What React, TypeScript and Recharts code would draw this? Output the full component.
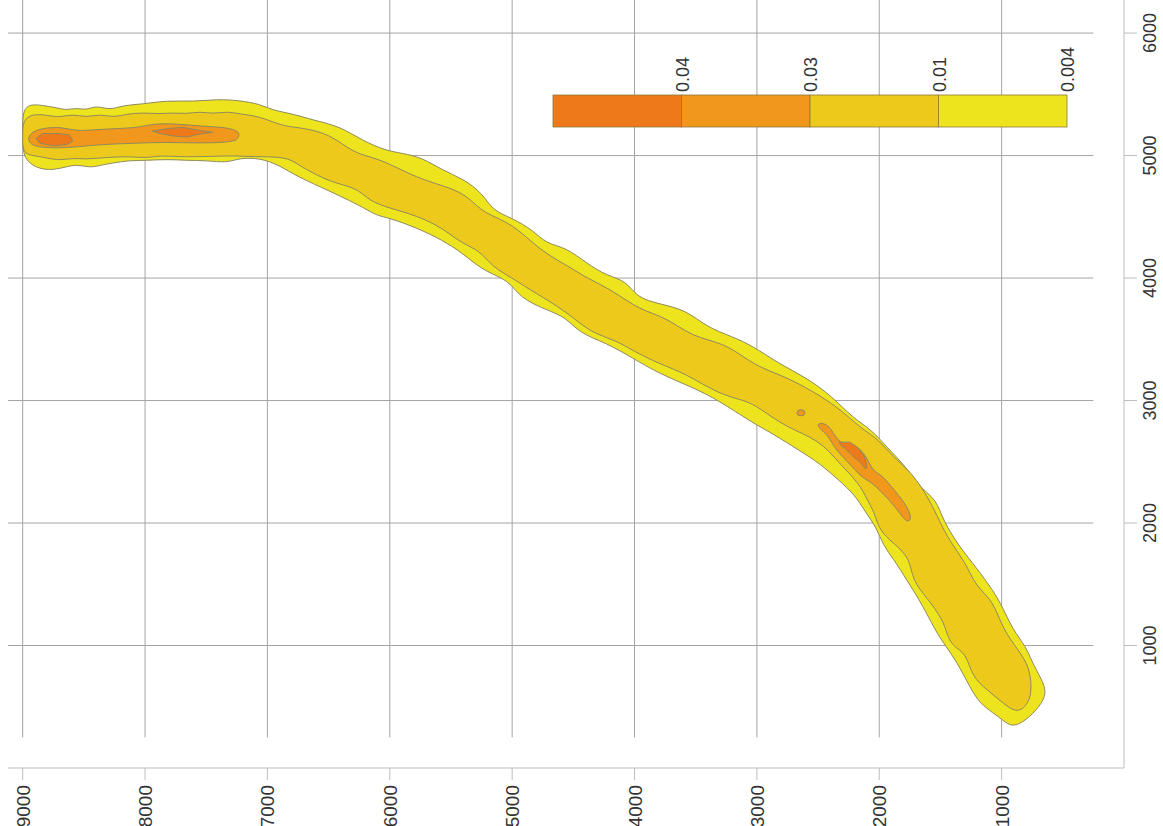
import React from 'react';
import { ScatterChart, Scatter, XAxis, YAxis, ReferenceLine, Legend } from 'recharts';

type P = [number, number];

const xTicks = [1000, 2000, 3000, 4000, 5000, 6000, 7000, 8000, 9000];
const yTicks = [1000, 2000, 3000, 4000, 5000, 6000];
const xDomain: [number, number] = [0, 9120];
const yDomain: [number, number] = [0, 6270];
const gridMin = 250;

const legendLevels = ['0.04', '0.03', '0.01', '0.004'];
const legendColors = ['#EE791B', '#F0971C', '#EDC91C', '#EEE41E'];

// outer contour (0.004)
const band004: P[] = [
  [9000, 5370], [8940, 5420], [8840, 5410], [8720, 5390], [8640, 5370], [8560, 5390], [8480, 5370], [8400, 5410],
  [8290, 5370], [8180, 5410], [8020, 5420], [7820, 5450], [7610, 5440], [7410, 5460], [7230, 5450], [7060, 5420],
  [6960, 5370], [6790, 5340], [6630, 5290], [6410, 5240], [6220, 5120], [6030, 5040], [5900, 5020], [5730, 4980],
  [5570, 4880], [5400, 4810], [5240, 4690], [5160, 4550], [5000, 4490], [4830, 4390], [4720, 4280], [4560, 4250],
  [4390, 4120], [4230, 4020], [4070, 3980], [3980, 3840], [3800, 3790], [3580, 3740], [3410, 3600], [3200, 3520],
  [3040, 3450], [2820, 3300], [2600, 3190], [2380, 3030], [2220, 2860], [2060, 2760], [1940, 2620], [1780, 2460],
  [1670, 2290], [1530, 2190], [1480, 2020], [1340, 1800], [1210, 1640], [1070, 1450], [990, 1310], [910, 1130],
  [800, 990], [750, 860], [670, 720], [630, 610], [690, 500], [800, 390], [910, 330], [990, 390], [1070, 450],
  [1180, 530], [1260, 660], [1340, 820], [1430, 960], [1510, 1070], [1570, 1180], [1670, 1370], [1810, 1590],
  [1880, 1700], [1970, 1820], [2020, 1960], [2120, 2100], [2200, 2230], [2330, 2350], [2490, 2490], [2650, 2590],
  [2870, 2730], [3040, 2820], [3310, 3000], [3530, 3110], [3800, 3220], [4020, 3350], [4230, 3470], [4450, 3550],
  [4560, 3680], [4720, 3740], [4940, 3840], [5020, 3980], [5240, 4060], [5400, 4200], [5570, 4310], [5780, 4410],
  [6000, 4490], [6110, 4510], [6220, 4580], [6490, 4710], [6760, 4830], [6900, 4920], [7060, 4980], [7230, 4980],
  [7330, 4940], [7500, 4960], [7660, 4960], [7820, 4970], [7990, 4960], [8130, 4960], [8260, 4940], [8370, 4920],
  [8450, 4900], [8560, 4930], [8670, 4900], [8780, 4880], [8890, 4900], [8970, 4960], [9000, 5040], [9000, 5200],
];

// 0.01 contour
const band01: P[] = [
  [9000, 5290], [8920, 5340], [8800, 5330], [8700, 5310], [8590, 5340], [8480, 5310], [8370, 5340], [8260, 5310],
  [8150, 5340], [8020, 5350], [7880, 5340], [7770, 5350], [7660, 5340], [7550, 5360], [7450, 5340], [7330, 5360],
  [7230, 5340], [7060, 5320], [6880, 5240], [6740, 5230], [6490, 5180], [6300, 5020], [6110, 4980], [5940, 4900],
  [5730, 4800], [5510, 4740], [5350, 4660], [5240, 4530], [5000, 4450], [4780, 4230], [4530, 4090], [4390, 4000],
  [4180, 3900], [3960, 3740], [3740, 3680], [3530, 3520], [3270, 3470], [3090, 3340], [2950, 3260], [2760, 3190],
  [2550, 3080], [2330, 2940], [2160, 2780], [2000, 2680], [1890, 2540], [1730, 2410], [1590, 2190], [1510, 2020],
  [1430, 1860], [1290, 1670], [1210, 1480], [1070, 1370], [990, 1130], [860, 960], [770, 820], [750, 610],
  [800, 500], [880, 450], [990, 530], [1120, 640], [1240, 740], [1290, 940], [1400, 990], [1450, 1100],
  [1480, 1210], [1610, 1390], [1730, 1530], [1750, 1720], [1890, 1840], [2000, 1940], [2040, 2090], [2100, 2190],
  [2160, 2320], [2330, 2490], [2490, 2680], [2760, 2780], [2980, 2940], [3090, 3000], [3310, 3050], [3580, 3220],
  [3800, 3300], [4020, 3410], [4150, 3490], [4340, 3550], [4470, 3650], [4610, 3760], [4880, 3920], [5000, 4000],
  [5160, 4090], [5270, 4230], [5410, 4280], [5570, 4410], [5780, 4510], [6000, 4570], [6170, 4630], [6270, 4740],
  [6490, 4780], [6760, 4930], [6840, 4990], [7120, 4990], [7280, 5000], [7550, 4990], [7720, 4990], [7880, 5000],
  [7990, 4980], [8100, 4990], [8230, 4990], [8370, 4980], [8480, 4970], [8590, 4980], [8700, 4960], [8800, 4980],
  [8920, 5000], [9000, 5020], [9000, 5150],
];

// 0.03 contours
const band03West: P[] = [
  [8960, 5140], [8920, 5200], [8800, 5230], [8670, 5230], [8560, 5200], [8430, 5210], [8230, 5220], [8040, 5230],
  [7940, 5260], [7740, 5260], [7550, 5240], [7330, 5230], [7240, 5200], [7230, 5170], [7240, 5140], [7280, 5110],
  [7550, 5100], [7820, 5110], [8100, 5100], [8370, 5090], [8560, 5070], [8720, 5060], [8890, 5070], [8940, 5100],
];
const band03East: P[] = [
  [2510, 2820], [2430, 2810], [2390, 2760], [2330, 2660], [2270, 2650], [2180, 2630], [2100, 2540], [2060, 2430],
  [1980, 2390], [1920, 2320], [1810, 2190], [1750, 2090], [1740, 2020], [1780, 2010], [1830, 2080], [1920, 2190],
  [2000, 2270], [2060, 2330], [2140, 2370], [2220, 2460], [2300, 2540], [2370, 2620], [2420, 2720], [2490, 2770],
];
const spot03: P[] = [[2640, 2900]];

// 0.04 contours
const band04WestA: P[] = [
  [8890, 5140], [8840, 5180], [8720, 5180], [8620, 5170], [8590, 5120], [8640, 5090], [8750, 5080], [8860, 5100],
];
const band04WestB: P[] = [
  [7940, 5200], [7820, 5220], [7690, 5230], [7580, 5210], [7450, 5190], [7580, 5170], [7660, 5150], [7770, 5160],
  [7880, 5180],
];
const band04East: P[] = [
  [2330, 2660], [2240, 2660], [2180, 2620], [2120, 2540], [2100, 2460], [2110, 2440], [2160, 2500], [2220, 2550],
  [2280, 2610], [2310, 2630],
];

const FONT = '"Liberation Sans", Arial, sans-serif';
const CONTOUR = '#8f8a5e';
const GRID = '#a4a4a4';
const AXIS = '#bdbdbd';

const toPts = (a: P[]) => a.map(([x, y]) => ({ x, y }));

const polys: { data: P[]; fill: string; curve: string }[] = [
  { data: band004, fill: legendColors[3], curve: 'basisClosed' },
  { data: band01, fill: legendColors[2], curve: 'basisClosed' },
  { data: band03West, fill: legendColors[1], curve: 'basisClosed' },
  { data: band03East, fill: legendColors[1], curve: 'basisClosed' },
  { data: band04WestA, fill: legendColors[0], curve: 'linearClosed' },
  { data: band04WestB, fill: legendColors[0], curve: 'linearClosed' },
  { data: band04East, fill: legendColors[0], curve: 'linearClosed' },
];

const XTick = (props: any) => {
  const { x, y, payload } = props;
  const ax = x + 7;
  return (
    <text x={ax} y={y} transform={`rotate(-90, ${ax}, ${y})`} textAnchor="end" fontSize={19} fontFamily={FONT} fill="#333">
      {payload.value}
    </text>
  );
};

const YTick = (props: any) => {
  const { x, y, payload } = props;
  const ax = x + 13;
  return (
    <text x={ax} y={y} transform={`rotate(-90, ${ax}, ${y})`} textAnchor="middle" fontSize={18} fontFamily={FONT} fill="#333">
      {payload.value}
    </text>
  );
};

const LegendBox = () => {
  const x0 = 13;
  const segW = 128.5;
  const top = 55;
  const h = 32;
  return (
    <svg width={560} height={100} style={{ display: 'block' }}>
      {legendLevels.map((lv, i) => (
        <rect key={'r' + lv} x={x0 + i * segW} y={top} width={segW} height={h} fill={legendColors[i]} stroke="#8a7a3a" strokeWidth={0.8} />
      ))}
      {legendLevels.map((lv, i) => {
        const ax = x0 + (i + 1) * segW + 7;
        const ay = 52;
        return (
          <text key={'t' + lv} x={ax} y={ay} transform={`rotate(-90, ${ax}, ${ay})`} textAnchor="start" fontSize={18} fontFamily={FONT} fill="#333">
            {lv}
          </text>
        );
      })}
    </svg>
  );
};

export default function App() {
  return (
    <div style={{ position: 'absolute', left: 0, top: 0, background: '#fff', fontFamily: FONT }}>
      <ScatterChart width={1163} height={826} margin={{ top: 0, right: 0, left: 8, bottom: 0 }}>
        <XAxis
          type="number"
          dataKey="x"
          domain={xDomain}
          reversed
          allowDataOverflow
          ticks={xTicks}
          interval={0}
          height={58}
          tickSize={12}
          tickMargin={5}
          axisLine={{ stroke: AXIS }}
          tickLine={{ stroke: AXIS }}
          tick={<XTick />}
        />
        <YAxis
          type="number"
          dataKey="y"
          orientation="right"
          domain={yDomain}
          allowDataOverflow
          ticks={yTicks}
          interval={0}
          width={39}
          tickSize={13}
          tickMargin={6}
          axisLine={{ stroke: AXIS }}
          tickLine={{ stroke: AXIS }}
          tick={<YTick />}
        />
        {polys.map((p, i) => (
          <Scatter
            key={'poly' + i}
            data={toPts(p.data)}
            isAnimationActive={false}
            line={{ fill: p.fill, stroke: CONTOUR, strokeWidth: 1 }}
            lineJointType={p.curve as any}
            shape={() => <g />}
            legendType="none"
          />
        ))}
        <Scatter
          data={toPts(spot03)}
          isAnimationActive={false}
          legendType="none"
          shape={(s: any) => <ellipse cx={s.cx} cy={s.cy} rx={4} ry={3} fill={legendColors[1]} stroke={CONTOUR} strokeWidth={1} />}
        />
        {xTicks.map((v) => (
          <ReferenceLine
            key={'vx' + v}
            segment={[{ x: v, y: gridMin }, { x: v, y: yDomain[1] }]}
            stroke={GRID}
            strokeWidth={1}
            ifOverflow="visible"
          />
        ))}
        {yTicks.map((v) => (
          <ReferenceLine
            key={'hy' + v}
            segment={[{ x: xDomain[1], y: v }, { x: gridMin, y: v }]}
            stroke={GRID}
            strokeWidth={1}
            ifOverflow="visible"
          />
        ))}
        <Legend
          layout="horizontal"
          verticalAlign="middle"
          align="center"
          wrapperStyle={{ position: 'absolute', left: 540, top: 40, width: 560, height: 100 }}
          content={() => <LegendBox />}
        />
      </ScatterChart>
    </div>
  );
}
